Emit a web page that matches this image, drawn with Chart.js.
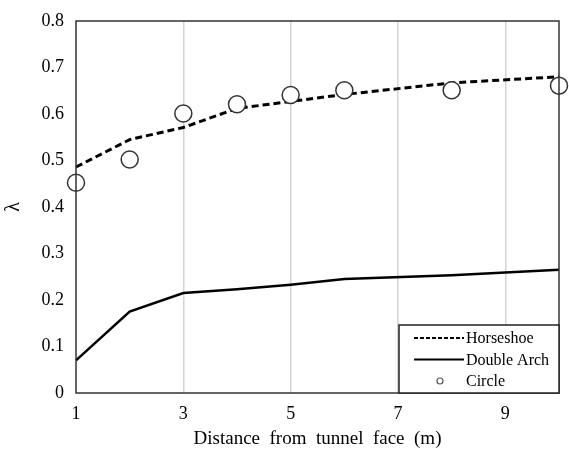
<!DOCTYPE html>
<html>
<head>
<meta charset="utf-8">
<script src="https://cdn.jsdelivr.net/npm/chart.js@4/dist/chart.umd.min.js"></script>
<style>
  html, body { margin: 0; padding: 0; background: #fff; }
  #wrap { width: 569px; height: 454px; }
</style>
</head>
<body>
<div id="wrap"><canvas id="lambdaChart"></canvas></div>
<script>
// data
const distances = [1, 2, 3, 4, 5, 6, 8, 10];
const horseshoe = [0.486, 0.545, 0.571, 0.612, 0.627, 0.642, 0.667, 0.68];
const doubleArch = [0.07, 0.175, 0.215, 0.223, 0.233, 0.245, 0.253, 0.265];
const circle = [0.452, 0.502, 0.601, 0.621, 0.641, 0.651, 0.651, 0.661];
const xTicks = [1, 3, 5, 7, 9];
const seriesNames = ["Horseshoe", "Double Arch", "Circle"];

const serif = "'Liberation Serif', 'Times New Roman', serif";

function toPoints(vals) {
    return distances.map((d, i) => ({ x: d, y: vals[i] }));
}

// frame round the plot area
const frame = {
    id: "frame",
    afterDatasetsDraw(chart) {
        const a = chart.chartArea;
        const ctx = chart.ctx;
        ctx.save();
        ctx.strokeStyle = "#333";
        ctx.lineWidth = 1.5;
        ctx.strokeRect(a.left, a.top, a.right - a.left, a.bottom - a.top);
        ctx.restore();
    }
};

// boxed legend in the lower right corner
const boxLegend = {
    id: "boxLegend",
    afterDraw(chart) {
        const a = chart.chartArea;
        const ctx = chart.ctx;
        const w = 160, h = 68;
        const x0 = a.right - w, y0 = a.bottom - h;
        ctx.save();
        ctx.fillStyle = "#fff";
        ctx.fillRect(x0, y0, w, h);
        ctx.strokeStyle = "#222";
        ctx.lineWidth = 1.5;
        ctx.strokeRect(x0, y0, w, h);
        ctx.font = "16px " + serif;
        ctx.fillStyle = "#000";
        ctx.textBaseline = "middle";
        chart.data.datasets.forEach((ds, i) => {
            const y = y0 + 13 + i * 21.5;
            ctx.strokeStyle = "#000";
            if (ds.showLine === false) {
                ctx.beginPath();
                ctx.lineWidth = 1.2;
                ctx.strokeStyle = "#555";
                ctx.arc(x0 + 41, y, 3, 0, Math.PI * 2);
                ctx.stroke();
            } else {
                ctx.beginPath();
                ctx.lineWidth = 2;
                ctx.setLineDash(ds.borderDash && ds.borderDash.length ? [4, 2] : []);
                ctx.moveTo(x0 + 15, y);
                ctx.lineTo(x0 + 65, y);
                ctx.stroke();
                ctx.setLineDash([]);
            }
            ctx.fillText(ds.label, x0 + 67, y + 1);
        });
        ctx.restore();
    }
};

new Chart(document.getElementById("lambdaChart"), {
    type: "line",
    data: {
        datasets: [
            {
                label: seriesNames[0],
                data: toPoints(horseshoe),
                borderColor: "#000",
                borderWidth: 3,
                borderDash: [7, 4],
                pointRadius: 0,
                tension: 0,
                order: 2
            },
            {
                label: seriesNames[1],
                data: toPoints(doubleArch),
                borderColor: "#000",
                borderWidth: 2.5,
                pointRadius: 0,
                tension: 0,
                order: 3
            },
            {
                label: seriesNames[2],
                data: toPoints(circle),
                showLine: false,
                pointRadius: 8.5,
                pointBackgroundColor: "#fff",
                pointBorderColor: "#333",
                pointBorderWidth: 1.5,
                order: 1
            }
        ]
    },
    options: {
        responsive: true,
        maintainAspectRatio: false,
        animation: false,
        clip: false,
        layout: { padding: { top: 18, right: 9, left: 0, bottom: 0 } },
        plugins: {
            legend: { display: false },
            tooltip: { enabled: false }
        },
        scales: {
            x: {
                type: "linear",
                min: 1,
                max: 10,
                afterBuildTicks(scale) {
                    scale.ticks = xTicks.map(v => ({ value: v }));
                },
                afterFit(scale) { scale.height = 61; },
                border: { display: false },
                grid: {
                    drawTicks: false,
                    color: ctx => (ctx.tick && ctx.tick.value === 1) ? "rgba(0,0,0,0)" : "#d4d4d4",
                    lineWidth: 1.5
                },
                ticks: {
                    color: "#000",
                    padding: 10,
                    maxRotation: 0,
                    font: { family: serif, size: 18 }
                },
                title: {
                    display: true,
                    text: "Distance  from  tunnel  face  (m)",
                    color: "#000",
                    padding: { top: 6 },
                    font: { family: serif, size: 19 }
                }
            },
            y: {
                min: 0,
                max: 0.8,
                afterFit(scale) { scale.width = 76; },
                border: { display: false },
                grid: { display: false, drawTicks: false },
                ticks: {
                    stepSize: 0.1,
                    color: "#000",
                    padding: 12,
                    font: { family: serif, size: 18, lineHeight: 1 },
                    callback: v => String(Math.round(v * 10) / 10)
                },
                title: {
                    display: true,
                    text: "λ",
                    color: "#000",
                    padding: { top: 2, bottom: 0 },
                    font: { family: serif, size: 20 }
                }
            }
        }
    },
    plugins: [frame, boxLegend]
});
</script>
</body>
</html>
